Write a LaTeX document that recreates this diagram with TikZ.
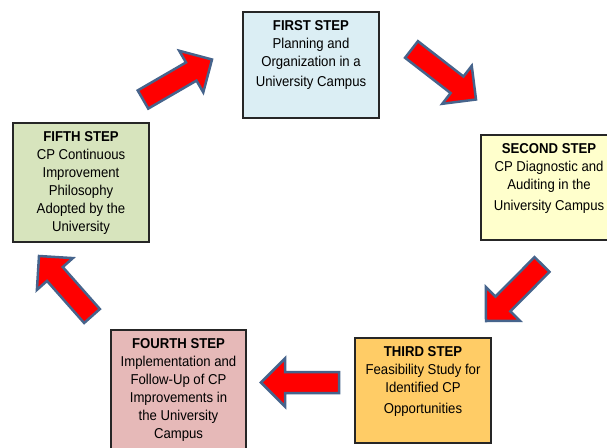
\documentclass[tikz,border=0pt]{standalone}
\usepackage{fontspec}
\setmainfont{Liberation Sans}[FakeStretch=0.92]
\usetikzlibrary{calc}
\definecolor{bluebox}{HTML}{DBEEF4}
\definecolor{yellowbox}{HTML}{FFFFCC}
\definecolor{orangebox}{HTML}{FFCC66}
\definecolor{pinkbox}{HTML}{E6B9B8}
\definecolor{greenbox}{HTML}{D7E4BD}
\definecolor{arrowedge}{HTML}{46648C}
\definecolor{arrowred}{HTML}{FF0000}
\tikzset{
  stepbox/.style={draw=black!85, line width=1.1pt, rectangle, anchor=north west, inner sep=0pt, outer sep=0pt, minimum width=136pt},
  steptext/.style={anchor=north, inner sep=0pt, align=center, font=\fontsize{14.3}{18}\selectfont, text=black},
  redarrow/.style={draw=arrowedge, fill=arrowred, line width=2.5pt, line join=miter},
}
\newcommand{\blockarrow}[2]{%
  \coordinate (#1h) at ($(#2)!24pt!(#1)$);
  \draw[redarrow] ($(#1)!10.5pt!90:(#2)$) -- ($(#1h)!10.5pt!-90:(#1)$) -- ($(#1h)!24pt!-90:(#1)$) -- (#2) -- ($(#1h)!24pt!90:(#1)$) -- ($(#1h)!10.5pt!90:(#1)$) -- ($(#1)!10.5pt!-90:(#2)$) -- cycle;
}
\begin{document}
\begin{tikzpicture}[x=1pt,y=-1pt]
\useasboundingbox (0,0) rectangle (607,447);
\clip (0,0) rectangle (607,447);
\fill[white] (0,0) rectangle (607,447);

% boxes
\node[stepbox, fill=bluebox, minimum height=106pt] (b1) at (243,12) {};
\node[stepbox, fill=yellowbox, minimum height=105pt] (b2) at (481,135) {};
\node[stepbox, fill=orangebox, minimum height=105pt] (b3) at (355,338) {};
\node[stepbox, fill=pinkbox, minimum width=135pt, minimum height=122pt] (b4) at (111,330) {};
\node[stepbox, fill=greenbox, minimum height=119pt] (b5) at (13,123) {};

% texts
\node[steptext] (t1) at ([yshift=-8pt]b1.north) {\textbf{FIRST STEP}\\Planning and\\Organization in a\\[2pt]University Campus};
\node[steptext] (t2) at ([yshift=-8pt]b2.north) {\textbf{SECOND STEP}\\CP Diagnostic and\\Auditing in the\\[3pt]University Campus};
\node[steptext] (t3) at ([yshift=-8.5pt]b3.north) {\textbf{THIRD STEP}\\Feasibility Study for\\Identified CP\\[3pt]Opportunities};
\node[steptext] (t4) at ([yshift=-8pt]b4.north) {\textbf{FOURTH STEP}\\Implementation and\\Follow-Up of CP\\Improvements in\\the University\\Campus};
\node[steptext] (t5) at ([yshift=-8.5pt]b5.north) {\textbf{FIFTH STEP}\\CP Continuous\\Improvement\\Philosophy\\Adopted by the\\University};

% arrow end points
\coordinate (a1s) at (143,99.5);
\coordinate (a1e) at (212,59.5);
\coordinate (a2s) at (411.5,49.5);
\coordinate (a2e) at (476,99.5);
\coordinate (a3s) at (542,264.5);
\coordinate (a3e) at (486,321);
\coordinate (a4s) at (339,382.5);
\coordinate (a4e) at (261,382.5);
\coordinate (a5s) at (92,316);
\coordinate (a5e) at (39,256);

\blockarrow{a1s}{a1e}
\blockarrow{a2s}{a2e}
\blockarrow{a3s}{a3e}
\blockarrow{a4s}{a4e}
\blockarrow{a5s}{a5e}
\end{tikzpicture}
\end{document}
